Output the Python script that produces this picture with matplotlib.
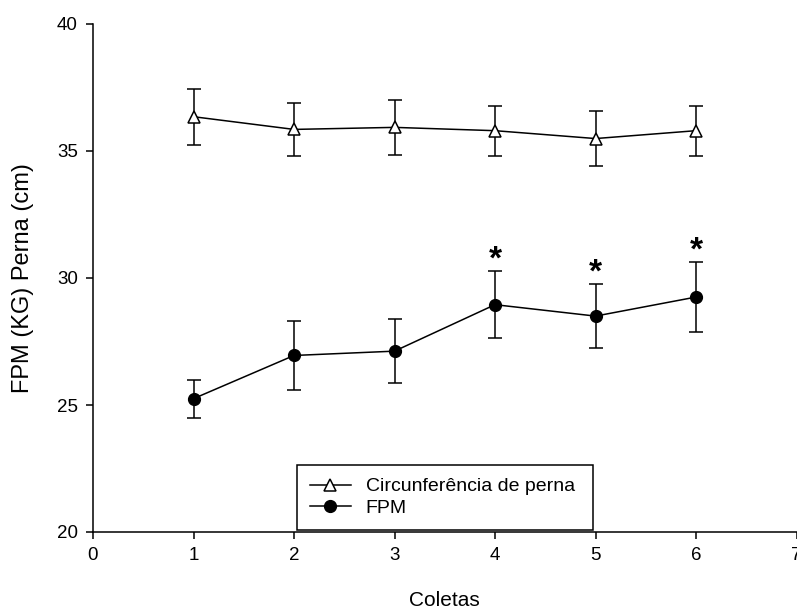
import matplotlib
matplotlib.use("Agg")
import matplotlib.pyplot as plt
from matplotlib.lines import Line2D

plt.rcParams['font.family'] = ['Liberation Sans', 'DejaVu Sans']

coletas = [1, 2, 3, 4, 5, 6]
circ_mean = [36.35, 35.85, 35.93, 35.80, 35.49, 35.80]
circ_err = [1.10, 1.04, 1.09, 0.99, 1.08, 0.99]
fpm_mean = [25.25, 26.95, 27.12, 28.95, 28.50, 29.25]
fpm_err = [0.75, 1.36, 1.26, 1.31, 1.25, 1.37]
signif = [False, False, False, True, True, True]
labels = ['Circunferência de perna', 'FPM']

xticks = [0, 1, 2, 3, 4, 5, 6, 7]
yticks = [20, 25, 30, 35, 40]

fig = plt.figure(figsize=(7.97, 6.12), dpi=100)
ax = fig.add_axes([93/797, 1-532/612, 703.5/797, 508/612])

ax.errorbar(coletas, circ_mean, yerr=circ_err, color='black', lw=1.1,
            elinewidth=1.1, capsize=4.7, capthick=1.1, marker='^', ms=9,
            mfc='white', mec='black', mew=1.1, zorder=3)
ax.errorbar(coletas, fpm_mean, yerr=fpm_err, color='black', lw=1.1,
            elinewidth=1.1, capsize=4.7, capthick=1.1, marker='o', ms=8.5,
            mfc='black', mec='black', zorder=3)

for x, m, e, s in zip(coletas, fpm_mean, fpm_err, signif):
    if s:
        ax.text(x, m + e + 0.12, '*', ha='center', va='baseline',
                fontsize=24, fontweight='bold')

ax.set_xlim(0, 7)
ax.set_ylim(20, 40)
ax.set_xticks(xticks)
ax.set_yticks(yticks)
ax.spines['top'].set_visible(False)
ax.spines['right'].set_visible(False)
for sp in ['left', 'bottom']:
    ax.spines[sp].set_linewidth(1.1)
ax.tick_params(direction='out', length=5, width=1.1, labelsize=13.5, pad=6)
ax.set_xlabel('Coletas', fontsize=15, labelpad=19)
ax.set_ylabel('FPM (KG) Perna (cm)', fontsize=17, labelpad=16)

handles = [
    Line2D([], [], color='black', lw=1.1, marker='^', ms=9, mfc='white',
           mec='black', mew=1.1),
    Line2D([], [], color='black', lw=1.1, marker='o', ms=8.5, mfc='black',
           mec='black'),
]
leg = ax.legend(handles, labels, loc='lower left',
                bbox_to_anchor=(0.2896, 0.004, 0.421, 0.148),
                mode='expand', borderaxespad=0, fontsize=14, frameon=True,
                fancybox=False, edgecolor='black', handlelength=2.1,
                handletextpad=0.77, labelspacing=0.2, borderpad=0.67)
leg.get_frame().set_linewidth(1.1)
leg.get_frame().set_alpha(1)

fig.savefig('out.png', dpi=100)
